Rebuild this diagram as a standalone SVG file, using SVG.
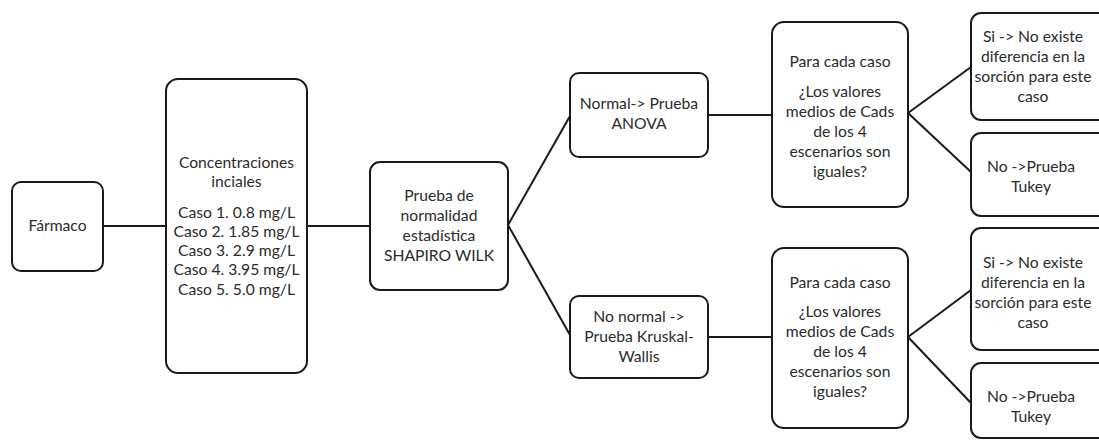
<svg xmlns="http://www.w3.org/2000/svg" width="1099" height="441" viewBox="0 0 1099 441">
<style>
.box{fill:#fff;stroke:#1a1a1a;stroke-width:2}
.t{font-family:Lato,"Liberation Sans",sans-serif;font-size:15.7px;fill:#2b2b2b;text-anchor:middle}
.c{stroke:#1a1a1a;stroke-width:2;fill:none}
</style>
<rect width="1099" height="441" fill="#fff"/>
<g id="connectors">
<line class="c" x1="103" y1="226" x2="166" y2="226"/>
<line class="c" x1="307" y1="226" x2="370" y2="226"/>
<line class="c" x1="508" y1="225" x2="570" y2="116"/>
<line class="c" x1="508" y1="225" x2="570" y2="335"/>
<line class="c" x1="708" y1="115" x2="772" y2="115"/>
<line class="c" x1="708" y1="337" x2="772" y2="337"/>
<line class="c" x1="908" y1="113" x2="971" y2="67"/>
<line class="c" x1="908" y1="113" x2="971" y2="172"/>
<line class="c" x1="908" y1="337" x2="971" y2="290"/>
<line class="c" x1="908" y1="337" x2="971" y2="403"/>
</g>
<g id="farmaco">
<rect class="box" x="12" y="182" width="91" height="89" rx="9"/>
<text class="t" x="57.5" y="231">Fármaco</text>
</g>
<g id="concentraciones">
<rect class="box" x="166" y="79" width="141" height="294" rx="12"/>
<text class="t" x="236.5" y="168">Concentraciones</text>
<text class="t" x="236.5" y="187">inciales</text>
<text class="t" x="236.5" y="218">Caso 1. 0.8 mg/L</text>
<text class="t" x="236.5" y="237">Caso 2. 1.85 mg/L</text>
<text class="t" x="236.5" y="256">Caso 3. 2.9 mg/L</text>
<text class="t" x="236.5" y="275">Caso 4. 3.95 mg/L</text>
<text class="t" x="236.5" y="295">Caso 5. 5.0 mg/L</text>
</g>
<g id="shapiro">
<rect class="box" x="370" y="162" width="138" height="128" rx="10"/>
<text class="t" x="439" y="201">Prueba de</text>
<text class="t" x="439" y="221">normalidad</text>
<text class="t" x="439" y="241">estadística</text>
<text class="t" x="439" y="261">SHAPIRO WILK</text>
</g>
<g id="anova">
<rect class="box" x="570" y="73" width="138" height="84" rx="9"/>
<text class="t" x="639" y="109">Normal-&gt; Prueba</text>
<text class="t" x="639" y="129">ANOVA</text>
</g>
<g id="kruskal">
<rect class="box" x="570" y="296" width="138" height="82" rx="9"/>
<text class="t" x="639" y="322">No normal -&gt;</text>
<text class="t" x="639" y="342">Prueba Kruskal-</text>
<text class="t" x="639" y="362">Wallis</text>
</g>
<g id="caso-top">
<rect class="box" x="772" y="22" width="136" height="185" rx="12"/>
<text class="t" x="840" y="67">Para cada caso</text>
<text class="t" x="840" y="97">¿Los valores</text>
<text class="t" x="840" y="117">medios de Cads</text>
<text class="t" x="840" y="137">de los 4</text>
<text class="t" x="840" y="157">escenarios son</text>
<text class="t" x="840" y="177">iguales?</text>
</g>
<g id="caso-bottom">
<rect class="box" x="772" y="248" width="136" height="180" rx="12"/>
<text class="t" x="840" y="288">Para cada caso</text>
<text class="t" x="840" y="317">¿Los valores</text>
<text class="t" x="840" y="337">medios de Cads</text>
<text class="t" x="840" y="357">de los 4</text>
<text class="t" x="840" y="377">escenarios son</text>
<text class="t" x="840" y="397">iguales?</text>
</g>
<g id="si-top">
<rect class="box" x="971" y="13" width="140" height="107" rx="10"/>
<text class="t" x="1033" y="42">Si -&gt; No existe</text>
<text class="t" x="1033" y="62">diferencia en la</text>
<text class="t" x="1033" y="82">sorción para este</text>
<text class="t" x="1033" y="102">caso</text>
</g>
<g id="no-top">
<rect class="box" x="971" y="133" width="140" height="83" rx="10"/>
<text class="t" x="1031" y="172">No -&gt;Prueba</text>
<text class="t" x="1031" y="192">Tukey</text>
</g>
<g id="si-bottom">
<rect class="box" x="971" y="228" width="140" height="122" rx="10"/>
<text class="t" x="1033" y="268">Si -&gt; No existe</text>
<text class="t" x="1033" y="288">diferencia en la</text>
<text class="t" x="1033" y="308">sorción para este</text>
<text class="t" x="1033" y="328">caso</text>
</g>
<g id="no-bottom">
<rect class="box" x="971" y="363" width="140" height="75" rx="10"/>
<text class="t" x="1031" y="402">No -&gt;Prueba</text>
<text class="t" x="1031" y="422">Tukey</text>
</g>
</svg>
